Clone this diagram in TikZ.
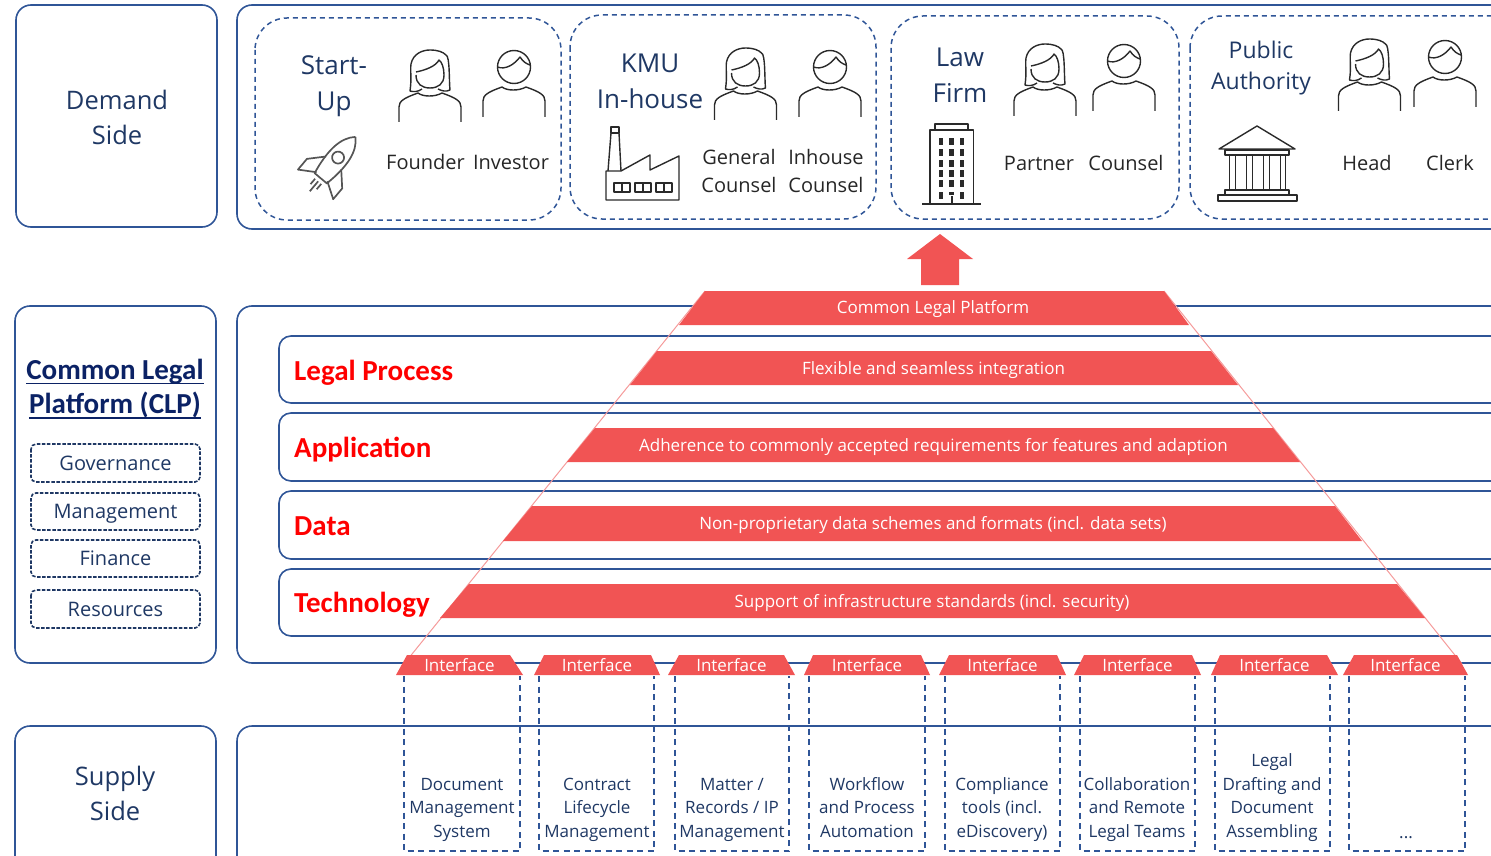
\documentclass[tikz,border=0pt]{standalone}
\usepackage{fontspec}
\setmainfont{Open Sans}
\newfontfamily\calfont{Carlito}
\definecolor{boxblue}{HTML}{2F5597}
\definecolor{navy}{HTML}{1F3864}
\definecolor{clpnavy}{HTML}{0B2265}
\definecolor{pyr}{HTML}{F15454}
\definecolor{pyrline}{HTML}{F59A9A}
\definecolor{icon}{HTML}{2A2A2A}
\newcommand{\fs}[1]{\fontsize{#1}{#1}\selectfont}
\newcommand{\fsl}[2]{\fontsize{#1}{#2}\selectfont}
\newcommand{\st}{\vphantom{Apg(}}
\tikzset{
 panel/.style={draw=boxblue,line width=1.6pt,rounded corners=15pt},
 layerbox/.style={draw=boxblue,line width=1.6pt,rounded corners=12pt},
 groupbox/.style={draw=boxblue,line width=1.5pt,dash pattern=on 5pt off 4pt,rounded corners=32pt},
 subbox/.style={draw=navy,line width=1.6pt,dash pattern=on 3.5pt off 1.6pt,rounded corners=5pt},
 toolbox/.style={draw=boxblue,line width=1.5pt,dash pattern=on 6pt off 4.5pt},
 band/.style={fill=pyr,draw=none},
 txt/.style={inner sep=0pt,align=center,text=navy},
 clptxt/.style={inner sep=0pt,anchor=base,text=clpnavy,font=\calfont\bfseries\fs{29}},
 clpline/.style={draw=clpnavy,line width=1.8pt},
 blk/.style={inner sep=0pt,align=center,text=black!85},
 wht/.style={inner sep=0pt,align=center,text=white,anchor=base,font=\fs{17}},
 redl/.style={inner sep=0pt,anchor=base west,text=red,font=\calfont\bfseries\fs{29}},
 tooltxt/.style={txt,font=\fsl{17}{23.5}},
 ic/.style={draw=icon,line width=1.4pt,line join=round},
 rk/.style={ic,line width=1.7pt,draw=icon!80},
 pics/man/.style={code={
  \draw[ic] (-31,0)--(-31,-16) .. controls (-31,-22) and (-26,-25) .. (-12,-30) .. controls (-7,-26) and (5,-26) .. (12,-30) .. controls (26,-25) and (31,-22) .. (31,-16)--(31,0);
  \draw[ic] (0,-50) circle[radius=16.5];
  \draw[ic] (-16.5,-50) .. controls (-9,-47) and (0,-52) .. (6,-60) .. controls (9,-55) and (13,-53) .. (16,-52);
 }},
 pics/woman/.style={code={
  \draw[ic] (-31,0)--(-31,-15) .. controls (-31,-21) and (-26,-24) .. (-12,-29) .. controls (-7,-25) and (5,-25) .. (12,-29) .. controls (26,-24) and (31,-21) .. (31,-15)--(31,0);
  \draw[ic] (-14,-47) .. controls (-14,-38) and (-8,-34) .. (0,-34) .. controls (8,-34) and (14,-38) .. (14,-47) .. controls (14,-54) and (12,-60) .. (9,-62) .. controls (6,-56) and (-4,-52) .. (-14,-50);
  \draw[ic] (-8,-33) .. controls (-12,-30) and (-17,-30) .. (-20,-31) .. controls (-18,-45) and (-20,-50) .. (-19,-58) .. controls (-17,-68) and (-8,-72) .. (0,-72) .. controls (8,-72) and (13,-70) .. (16,-67) .. controls (20,-66) and (19,-40) .. (20,-32) .. controls (16,-30) and (12,-31) .. (8,-33);
 }},
}
\begin{document}
\begin{tikzpicture}[x=1pt,y=-1pt]
\useasboundingbox (0,0) rectangle (1491,856);
\clip (0,0) rectangle (1491,856);
% panels
\draw[panel] (16,5) rectangle (217,227);
\draw[panel] (237,5) rectangle (1530,229);
\draw[panel] (15,306) rectangle (216,663);
\draw[panel] (237,306) rectangle (1530,663);
\draw[panel] (15,726) rectangle (216,890);
\draw[panel] (237,726) rectangle (1530,890);
\foreach \a/\b in {336/403,413/481,491/559,569/636}
  \draw[layerbox] (279,\a) rectangle (1530,\b);
% left labels
\node[txt,font=\fsl{25.5}{35}] (demand) at (117,117) {Demand\\Side};
\node[txt,font=\fsl{25.5}{35}] (supply) at (115,793) {Supply\\Side};
\node[clptxt] (clp1) at (115,379) {Common Legal};
\node[clptxt] (clp2) at (115,413.5) {Platform (CLP)};
\draw[clpline] ([yshift=-4.5pt]clp1.base west) -- ([yshift=-4.5pt]clp1.base east);
\draw[clpline] ([yshift=-4.5pt]clp2.base west) -- ([yshift=-4.5pt]clp2.base east);
\foreach \n/\t/\a/\b/\c in {gov/Governance/444/482/470,man/Management/493/530/518.5,fin/Finance/540/577/565,res/Resources/590/628/616}{
  \draw[subbox] (31,\a) rectangle (200,\b);
  \node[txt,font=\fs{20},anchor=base] (\n) at (115.5,\c) {\t};
}
% group boxes
\draw[groupbox] (255,18) rectangle (561,220);
\draw[groupbox] (570,15) rectangle (876,219);
\draw[groupbox] (891,16) rectangle (1179,219);
\draw[groupbox] (1190,16) rectangle (1530,219);
% group titles
\node[txt,font=\fsl{26}{36}] (g1) at (334,86) {Start-\\Up};
\node[txt,font=\fsl{26}{36}] (g2) at (650,81) {KMU\\In-house};
\node[txt,font=\fsl{26}{36}] (g3) at (960,75.5) {Law\\Firm};
\node[txt,font=\fsl{23}{31}] (g4) at (1261,68) {Public\\Authority};
% people
\foreach \p/\x/\y in {woman/430/122,man/514/117,woman/745.5/120,man/830/117,woman/1045/116,man/1124/111,woman/1369.5/111,man/1445/107}
  \pic at (\x,\y) {\p};
% role labels
\node[blk,font=\fs{20}] (r1) at (425.5,162) {Founder};
\node[blk,font=\fs{20}] (r2) at (511,162) {Investor};
\node[blk,font=\fsl{20}{28}] (r3) at (739,171) {General\\Counsel};
\node[blk,font=\fsl{20}{28}] (r4) at (826,171) {Inhouse\\Counsel};
\node[blk,font=\fs{20}] (r5) at (1039,163) {Partner};
\node[blk,font=\fs{20}] (r6) at (1126,163) {Counsel};
\node[blk,font=\fs{20}] (r7) at (1367,163) {Head};
\node[blk,font=\fs{20}] (r8) at (1450,163) {Clerk};
% rocket
\begin{scope}[shift={(331,166)},rotate=-40]
  \draw[rk] (0,-38) .. controls (11,-28) and (13,-10) .. (8,16) -- (-8,16) .. controls (-13,-10) and (-11,-28) .. (0,-38);
  \draw[rk] (0,-11) circle[radius=6];
  \draw[rk] (-10,-4) -- (-23,10) -- (-23,24) -- (-7,14);
  \draw[rk] (10,-4) -- (23,10) -- (23,24) -- (7,14);
  \draw[rk] (-4,20)--(-4,27) (0,20)--(0,33) (4,20)--(4,27);
\end{scope}
% factory
\draw[ic] (606,200) -- (606,171) -- (621,171) -- (650,155) -- (650,170) -- (679,156) -- (679,200) -- cycle;
\draw[ic] (608,171) -- (611,133) -- (619,133) -- (621,171);
\draw[ic] (611,127) rectangle (619,133);
\draw[ic] (614,183) rectangle (630,192) (635,183) rectangle (651,192) (656,183) rectangle (672,192);
\draw[ic] (622,183)--(622,192) (643,183)--(643,192) (664,183)--(664,192);
% building
\draw[ic] (930,204) -- (930,130) -- (973.5,130) -- (973.5,204);
\draw[ic] (935,130) -- (935,124) -- (968,124) -- (968,130);
\draw[ic,line width=1.8pt] (922,204) -- (981,204);
\draw[ic,line width=2pt] (951.5,196) -- (951.5,204);
\foreach \yy in {142,152.5,163,173,183.5}
  \foreach \xx in {941,951.5,962}
    \fill[icon] (\xx-2.3,\yy-3.5) rectangle (\xx+2.3,\yy+3.5);
\fill[icon] (938.7,191.5) rectangle (943.3,198.5);
\fill[icon] (949.2,191.5) rectangle (953.8,194.5);
\fill[icon] (959.7,191.5) rectangle (964.3,198.5);
% temple
\draw[ic] (1219,149) -- (1257,126) -- (1295,149) -- cycle;
\draw[ic] (1225,150) rectangle (1289,155);
\foreach \xx in {1229,1235,1246,1252,1263,1269,1280,1285}
  \draw[ic,line width=1pt] (\xx,155) -- (\xx,190);
\draw[ic] (1225,190) rectangle (1289,195);
\draw[ic] (1218,195) rectangle (1297,201);
% arrow
\fill[pyr] (940,234) -- (973,259) -- (959,259) -- (959,285) -- (921,285) -- (921,259) -- (907,259) -- cycle;
% pyramid lines
\coordinate (apexL) at (705,291);
\coordinate (apexR) at (1164,291);
\coordinate (footL) at (404,664);
\coordinate (footR) at (1462,664);
\draw[pyrline,line width=1pt] (apexL) -- (footL);
\draw[pyrline,line width=1pt] (apexR) -- (footR);
% bands
\fill[band] (705,291) -- (1164,291) -- (1189,325) -- (679,325) -- cycle;
\fill[band] (657,351) -- (1211,351) -- (1238,385) -- (630,385) -- cycle;
\fill[band] (595,428) -- (1273,428) -- (1300,462) -- (567,462) -- cycle;
\fill[band] (532,506) -- (1335,506) -- (1362,541) -- (503,541) -- cycle;
\fill[band] (469,584) -- (1397,584) -- (1425,618) -- (440,618) -- cycle;
\node[wht] (b1) at (933,313) {Common Legal Platform};
\node[wht] (b2) at (933.5,374) {Flexible and seamless integration};
\node[wht] (b3) at (933.5,451) {Adherence to commonly accepted requirements for features and adaption};
\node[wht] (b4) at (933,529) {Non-proprietary data schemes and formats (incl. data sets)};
\node[wht] (b5) at (932,607) {Support of infrastructure standards (incl. security)};
% layer labels
\node[redl] (l1) at (294,380) {Legal Process};
\node[redl] (l2) at (294,457) {Application};
\node[redl] (l3) at (294,535) {Data};
\node[redl] (l4) at (294,612) {Technology};
% interfaces and tools
\foreach \i/\a/\b/\c/\d in {1/396/407/510/523,2/534/544/651/660,3/668/679/784/795,4/804/813/921/930,5/939/949/1057/1066,6/1074/1084/1192/1201,7/1211/1220/1327/1338,8/1343/1354/1457/1468}{
  \fill[band] (\a,675) -- (\b,655) -- (\c,655) -- (\d,675) -- cycle;
  \node[wht] (if\i) at ({(\a+\d)/2},671) {Interface};
}
\foreach \n/\a/\b in {1/404/520,2/539/654,3/675/789,4/809/925,5/945/1060,6/1080/1195,7/1215/1330,8/1349/1465}
  \draw[toolbox] (\a,676) -- (\a,851) -- (\b,851) -- (\b,676);
\node[tooltxt] (t1) at (462,809.5) {\st Document\\Management\\\st System};
\node[tooltxt] (t2) at (597,809.5) {\st Contract\\Lifecycle\\\st Management};
\node[tooltxt] (t3) at (732,809.5) {\st Matter /\\Records / IP\\\st Management};
\node[tooltxt] (t4) at (867,809.5) {\st Workflow\\and Process\\\st Automation};
\node[tooltxt] (t5) at (1002,809.5) {\st Compliance\\tools (incl.\\\st eDiscovery)};
\node[tooltxt] (t6) at (1137,809.5) {\st Collaboration\\and Remote\\\st Legal Teams};
\node[tooltxt] (t7) at (1272,797.5) {\st Legal\\Drafting and\\Document\\\st Assembling};
\node[txt,font=\fs{17},anchor=base] (t8) at (1406,838) {...};
\end{tikzpicture}
\end{document}
